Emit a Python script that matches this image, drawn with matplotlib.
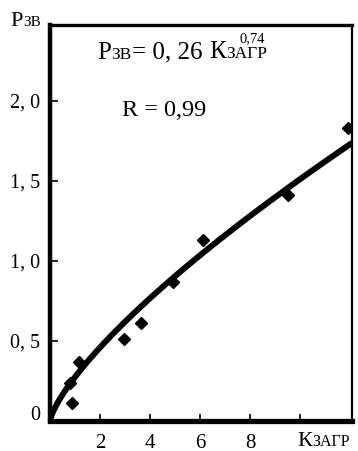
import numpy as np
import matplotlib
matplotlib.use('Agg')
import matplotlib.pyplot as plt
from matplotlib.transforms import ScaledTranslation

# данные (точки) по рисунку
k_zagr = [0.8, 0.87, 1.17, 2.96, 3.63, 4.93, 6.13, 9.53, 11.93]
p_zv = [0.24, 0.11, 0.37, 0.51, 0.61, 0.87, 1.13, 1.41, 1.83]

# степенная аппроксимация (как нарисована линия)
fit_a = 0.275
fit_b = 0.74

x_ticks = [2, 4, 6, 8]
y_ticks = [0, 0.5, 1.0, 1.5, 2.0]
y_labels = ['0', '0, 5', '1, 0', '1, 5', '2, 0']

SERIF = 'Liberation Serif'
plt.rcParams['font.family'] = [SERIF, 'DejaVu Serif']

fig = plt.figure(figsize=(3.58, 4.51), dpi=100)
ax = fig.add_axes([50/358, 30/451, 302/358, 396/451])


def chain_text(x, y, parts, transform):
    # текст из кусков разного размера (капитель), выровненных по базовой линии
    s, size, fam = parts[0]
    t = ax.text(x, y, s, fontsize=size, family=fam, transform=transform,
                ha='left', va='baseline', clip_on=False)
    prev_size = size
    for s, size, fam in parts[1:]:
        t = ax.annotate(s, xy=(1, 0), xycoords=t, xytext=(0.3, 0.216 * prev_size),
                        textcoords='offset points', fontsize=size, family=fam,
                        ha='left', va='baseline', annotation_clip=False)
        prev_size = size
    return t


xx = np.linspace(0, 12.08, 200)
ax.plot(xx, fit_a * xx ** fit_b, color='black', lw=4.3, solid_capstyle='butt')
ax.plot(k_zagr, p_zv, 'D', color='black', ms=6)

ax.set_xlim(0, 12.08)
ax.set_ylim(0, 2.475)

ax.set_xticks(x_ticks + [10])
ax.set_xticklabels([str(t) for t in x_ticks] + [''])
ax.set_yticks(y_ticks)
ax.set_yticklabels(y_labels)
ax.tick_params(direction='in', length=5, width=1.2)
ax.tick_params(axis='x', labelsize=15, pad=9)
ax.tick_params(axis='y', labelsize=14.5, pad=7, length=6)
ax.get_yticklines()[0].set_visible(False)
lab0 = ax.get_yticklabels()[0]
lab0.set_transform(lab0.get_transform() + ScaledTranslation(0, 6/72, fig.dpi_scale_trans))

ax.spines['left'].set_linewidth(3.2)
ax.spines['bottom'].set_linewidth(3.8)
ax.spines['top'].set_linewidth(2.4)
ax.spines['right'].set_linewidth(1.6)

# подписи осей
chain_text(10/358, 1 - 26/451, [('Р', 16, SERIF), ('ЗВ', 11, SERIF)], fig.transFigure)
chain_text(297/358, 1 - 446/451, [('К', 16, SERIF), ('ЗАГР', 11.5, SERIF)], fig.transFigure)

# формула
chain_text(97/358, 1 - 59/451,
           [('Р', 18, SERIF), ('ЗВ', 12.5, SERIF), ('= 0, 26 ', 18, SERIF),
            ('К', 18, SERIF), ('ЗАГР', 12.5, SERIF)], fig.transFigure)
fig.text(240/358, 1 - 42/451, '0,74', fontsize=10.5, ha='left', va='baseline')

fig.text(122/358, 1 - 116/451, 'R = 0,99', fontsize=17.5,
         ha='left', va='baseline')

fig.savefig('out.png', dpi=100)
